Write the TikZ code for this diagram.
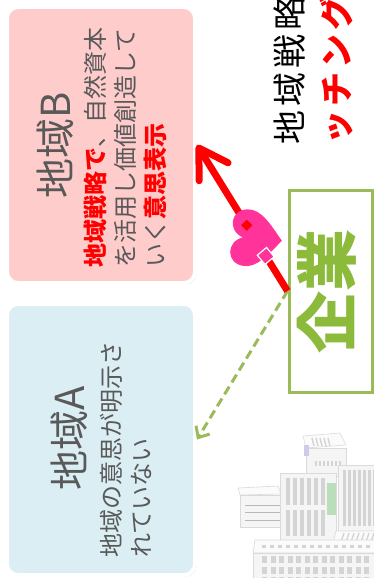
\documentclass[tikz,border=0pt]{standalone}
\usepackage{fontspec}
\newfontfamily\jp{Noto Sans CJK JP}
\usetikzlibrary{arrows.meta,shadows,calc}
\definecolor{pinkfill}{HTML}{FFCCCC}
\definecolor{bluefill}{HTML}{DAEEF3}
\definecolor{txtgray}{HTML}{595959}
\definecolor{leaf}{HTML}{9BBB59}
\definecolor{leafdark}{HTML}{8CBA3A}
\definecolor{heartpink}{HTML}{FF3399}
\definecolor{bldline}{HTML}{DADADA}
\definecolor{bldwin}{HTML}{D4D4D4}
\definecolor{bldface}{HTML}{F5F5F5}
\definecolor{bldtop}{HTML}{FBFBFB}

\tikzset{
  areabox/.style={draw=white, line width=4pt, rounded corners=11pt, inner sep=0pt,
    drop shadow={shadow xshift=1.5pt, shadow yshift=-1.5pt, opacity=0.5, fill=black!50}},
  titletext/.style={rotate=90, text=txtgray, font=\jp\fontsize{40}{46}\selectfont, inner sep=0pt},
  bodytext/.style={rotate=90, text=txtgray, align=left, inner sep=0pt, anchor=north west,
    font=\jp\fontsize{24}{30}\selectfont},
  firmbox/.style={draw=leaf, line width=3pt, fill=white, inner sep=0pt},
  redarrow/.style={draw=red, line width=7pt, -{Straight Barb[length=28pt, width=34pt, round]}},
  greenarrow/.style={draw=leaf, line width=3pt, dash pattern=on 9pt off 5pt,
    -{Straight Barb[length=9pt, width=16pt]}},
  bld/.style={fill=bldface, draw=bldline, line width=0.6pt},
  bldtopface/.style={fill=bldtop, draw=bldline, line width=0.6pt},
  win/.style={fill=bldwin, draw=none},
}

\begin{document}
\begin{tikzpicture}[x=1pt, y=-1pt]
  \useasboundingbox (0,0) rectangle (374,578);
  \clip (0,0) rectangle (374,578);

  % region cards
  \node[areabox, fill=pinkfill, minimum width=188pt, minimum height=276pt] (areaB) at (101,145) {};
  \node[areabox, fill=bluefill, minimum width=188pt, minimum height=271pt] (areaA) at (101,439.5) {};

  \node[titletext] (titleB) at (55,145) {地域B};
  \node[bodytext] (bodyB) at (84,268)
    {{\bfseries\color{red}地域戦略で}、自然資本\\を活用し価値創造して\\いく{\bfseries\color{red}意思表示}};

  \node[titletext] (titleA) at (69,438) {地域A};
  \node[bodytext] (bodyA) at (100,558) {地域の意思が明示さ\\れていない};

  % heading at the right edge
  \node[rotate=90, anchor=north west, inner sep=0pt, align=left,
        font=\jp\fontsize{34}{47}\selectfont] (head) at (274,145)
    {地\kern4pt 域\kern4pt 戦\kern4pt 略\\
     {\bfseries\color{red}ッ\kern4pt チ\kern4pt ン\kern4pt グ}};

  % company box
  \node[firmbox, minimum width=83pt, minimum height=202pt] (kigyo) at (330.5,291) {};
  \node[rotate=90, text=leafdark, font=\jp\bfseries\fontsize{62}{66}\selectfont, inner sep=0pt]
    (kigyoText) at (327,291) {企業};

  % connectors
  \draw[greenarrow] (kigyo.west) -- (areaA.east);
  \draw[redarrow] (kigyo.west) -- (areaB.east);

  % heart on the red arrow
  \coordinate (hc) at ($(kigyo.west)!0.36!(areaB.east)$);
  \begin{scope}[shift={(hc)}, rotate=85, scale=27]
    \fill[heartpink] (0,1) .. controls (-0.55,0.55) and (-1.1,0.15) .. (-1.05,-0.35)
      .. controls (-1.0,-1.0) and (-0.2,-1.05) .. (0,-0.45)
      .. controls (0.2,-1.05) and (1.0,-1.0) .. (1.05,-0.35)
      .. controls (1.1,0.15) and (0.55,0.55) .. (0,1) -- cycle;
  \end{scope}
  \coordinate (hole) at ($(kigyo.west)!0.45!(areaB.east)$);
  \fill[red, rotate around={45:(hole)}] ($(hole)+(-4,-4)$) rectangle ($(hole)+(4,4)$);
  \coordinate (chip) at ($(kigyo.west)!0.24!(areaB.east)$);
  \filldraw[fill=heartpink, draw=white, line width=1.2pt, rotate around={40:(chip)}]
    ($(chip)+(-6,-6)$) rectangle ($(chip)+(6,6)$);

  % city buildings
  % left low block
  \draw[bldtopface] (238,488) -- (278,486) -- (281,494) -- (240,495) -- cycle;
  \draw[bld] (240,495) rectangle (281,527);
  \foreach \yy in {505,512,520} \draw[gray!55, line width=0.8pt] (245,\yy) -- (281,\yy);
  % small top block
  \draw[bldtopface] (303,436) -- (340,433) -- (346,445) -- (306,448) -- cycle;
  \draw[bld] (306,448) rectangle (346,476);
  \foreach \xx in {312,316,320,324,328} \draw[bldwin, line width=1.4pt] (\xx,438) -- (\xx+2,446);
  \fill[bldwin!80!blue!60] (304,445) rectangle (309,456);
  \foreach \xx in {315,319,...,339} \fill[bldwin] (\xx,461) rectangle (\xx+2,466);
  % middle tower
  \draw[bld] (280,473) rectangle (336,540);
  \foreach \xx in {286,293,300,307,314,321}
    { \fill[win] (\xx,478) rectangle (\xx+3.5,505);
      \fill[win] (\xx,510) rectangle (\xx+3.5,536); }
  \fill[green!35!gray!40] (327,483) rectangle (336,515);
  % right tower
  \draw[bld] (338,465) rectangle (376,531);
  \foreach \xx in {343,348,...,373} \fill[win] (\xx,470) rectangle (\xx+2.5,526);
  \draw[bldtopface] (336,531) -- (376,531) -- (376,547) -- (332,547) -- cycle;
  \foreach \xx in {340,345,...,370} \draw[bldwin, line width=1.3pt] (\xx,545) -- (\xx+4,533);
  % wide base block
  \draw[bldtopface] (255,540) -- (376,540) -- (376,553) -- (253,553) -- cycle;
  \foreach \xx in {262,270,...,366} \fill[bldwin] (\xx,545) rectangle (\xx+4,548);
  \draw[bld] (253,553) rectangle (376,580);
  \foreach \xx in {262,270.5,...,370}
    { \fill[win] (\xx,556) rectangle (\xx+5,563);
      \fill[win] (\xx,567) rectangle (\xx+5,574);
      \fill[win] (\xx,577) rectangle (\xx+5,584); }
\end{tikzpicture}
\end{document}
